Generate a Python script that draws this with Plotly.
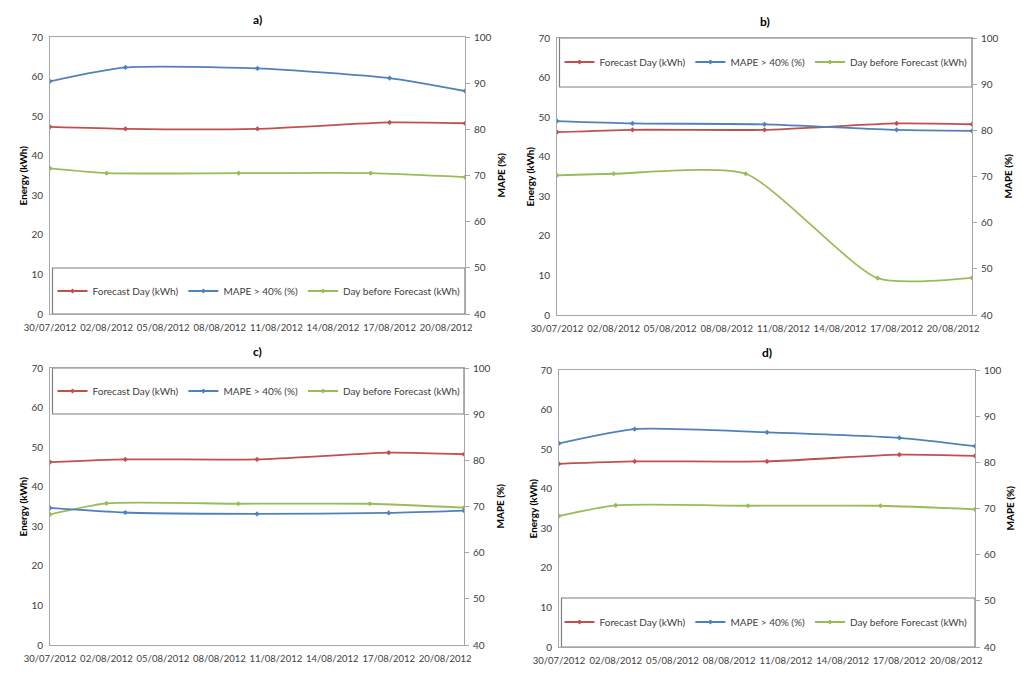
import plotly.graph_objects as go

# ---------------- data ----------------
dates_forecast = ["2012-07-30", "2012-08-03", "2012-08-10", "2012-08-17", "2012-08-21"]
dates_daybefore = ["2012-07-30", "2012-08-02", "2012-08-09", "2012-08-16", "2012-08-21"]

panel_labels = ["a)", "b)", "c)", "d)"]
series_names = ["Forecast Day (kWh)", "MAPE > 40% (%)", "Day before Forecast (kWh)"]

forecast_a = [47.3, 46.8, 46.8, 48.4, 48.2]
mape_a = [90.4, 93.4, 93.2, 91.1, 88.3]
daybefore_a = [36.8, 35.6, 35.6, 35.6, 34.6]

forecast_b = [46.2, 46.8, 46.8, 48.4, 48.2]
mape_b = [82.0, 81.5, 81.3, 80.1, 79.9]
daybefore_b = [35.3, 35.7, 35.7, 9.3, 9.4]

forecast_c = [46.2, 46.9, 46.9, 48.6, 48.2]
mape_c = [69.7, 68.7, 68.4, 68.6, 69.1]
daybefore_c = [33.0, 35.8, 35.7, 35.7, 34.7]

forecast_d = [46.3, 46.9, 46.9, 48.6, 48.3]
mape_d = [84.1, 87.2, 86.5, 85.3, 83.5]
daybefore_d = [33.1, 35.8, 35.7, 35.7, 34.8]

x_tick_values = ["2012-07-30", "2012-08-02", "2012-08-05", "2012-08-08",
                 "2012-08-11", "2012-08-14", "2012-08-17", "2012-08-20"]
x_tick_text = ["30/07/2012", "02/08/2012", "05/08/2012", "08/08/2012",
               "11/08/2012", "14/08/2012", "17/08/2012", "20/08/2012"]
x_range = ["2012-07-30", "2012-08-21"]
energy_ticks = [0, 10, 20, 30, 40, 50, 60, 70]
mape_ticks = [40, 50, 60, 70, 80, 90, 100]

panels = [
    (forecast_a, mape_a, daybefore_a),
    (forecast_b, mape_b, daybefore_b),
    (forecast_c, mape_c, daybefore_c),
    (forecast_d, mape_d, daybefore_d),
]

# ---------------- layout geometry (pixels) ----------------
W, H = 1024, 678
# left, right, top, bottom of each plot area
boxes = [(50, 465, 37, 314), (557, 972, 38, 315), (50, 464, 368, 645), (559, 975, 370, 647)]
legend_at_top = [False, True, True, False]
legend_box_px = [46, 49, 46, 49]
legend_centers = [(259, 291), (766, 62), (259, 391), (766, 622)]
left_title_x = [22, 529, 22, 532]
right_title_x = [500, 1007, 499, 1009]
title_y = [20, 21, 351, 352]

colors = ["#C0504D", "#4F81BD", "#9BBB59"]
FONT = "Lato, 'Open Sans', sans-serif"
TXT = "#404040"
AX = "#A6A6A6"

fig = go.Figure()
layout = dict(
    template="none",
    width=W, height=H, margin=dict(l=0, r=0, t=0, b=0, pad=0, autoexpand=False),
    paper_bgcolor="white", plot_bgcolor="white",
    font=dict(family=FONT, size=10, color=TXT),
    shapes=[], annotations=[],
)

for i, (fc, mp, db) in enumerate(panels):
    l, r, t, b = boxes[i]
    xa = f"x{i+1}" if i else "x"
    ya = f"y{2*i+1}" if i else "y"
    yb = f"y{2*i+2}"
    xname = f"xaxis{i+1}" if i else "xaxis"
    yname = f"yaxis{2*i+1}" if i else "yaxis"
    yname2 = f"yaxis{2*i+2}"
    leg = f"legend{i+1}" if i else "legend"

    series = [(dates_forecast, fc, ya), (dates_forecast, mp, yb), (dates_daybefore, db, ya)]
    for k, (xs, ys, yax) in enumerate(series):
        fig.add_trace(go.Scatter(
            x=xs, y=ys, name=series_names[k], mode="lines+markers",
            line=dict(color=colors[k], width=1.8, shape="spline", smoothing=0.6),
            marker=dict(color=colors[k], size=4, symbol="diamond"),
            xaxis=xa, yaxis=yax, legend=leg, cliponaxis=True,
        ))

    xd = [l / W, r / W]
    yd = [1 - b / H, 1 - t / H]
    layout[xname] = dict(
        domain=xd, anchor=ya, type="date", range=x_range, automargin=False,
        tickvals=x_tick_values, ticktext=x_tick_text, tickangle=0,
        showline=True, linecolor=AX, linewidth=1, mirror=True,
        ticks="", showgrid=False, zeroline=False, ticklabelstandoff=5,
        tickfont=dict(size=9.5, color=TXT),
    )
    layout[yname] = dict(
        domain=yd, anchor=xa, range=[0, 70], tickvals=energy_ticks, automargin=False,
        showline=True, linecolor=AX, linewidth=1, ticks="", ticklabelstandoff=4,
        showgrid=False, zeroline=False, tickfont=dict(size=10, color=TXT),
    )
    layout[yname2] = dict(
        domain=yd, anchor=xa, overlaying=ya, side="right", range=[40, 100],
        tickvals=mape_ticks, showline=True, linecolor=AX, linewidth=1, automargin=False,
        ticks="outside", ticklen=4, tickcolor=AX, ticklabelstandoff=2,
        showgrid=False, zeroline=False, tickfont=dict(size=10, color=TXT),
    )
    cx, cy = legend_centers[i]
    layout[leg] = dict(
        x=cx / W, y=1 - cy / H, xanchor="center", yanchor="middle",
        orientation="h", bgcolor="rgba(0,0,0,0)", borderwidth=0,
        font=dict(size=10, color=TXT), itemwidth=30, tracegroupgap=0,
    )
    hfrac = legend_box_px[i] / (b - t)
    y0, y1 = (1 - hfrac, 1) if legend_at_top[i] else (0, hfrac)
    layout["shapes"].append(dict(
        type="rect", xref=f"{xa} domain", yref=f"{ya} domain",
        x0=0.006, x1=1, y0=y0, y1=y1,
        line=dict(color="#7F7F7F", width=1.2), fillcolor="white", layer="below",
    ))
    layout["annotations"].append(dict(
        text=f"<b>{panel_labels[i]}</b>", xref="paper", yref="paper",
        x=(l + r) / 2 / W, y=1 - title_y[i] / H, showarrow=False,
        font=dict(size=12, color="#000000"), xanchor="center", yanchor="middle",
    ))
    ymid = 1 - (t + b) / 2 / H
    layout["annotations"].append(dict(
        text="<b>Energy (kWh)</b>", xref="paper", yref="paper",
        x=left_title_x[i] / W, y=ymid, textangle=-90, showarrow=False,
        font=dict(size=10, color="#000000"), xanchor="center", yanchor="middle",
    ))
    layout["annotations"].append(dict(
        text="<b>MAPE (%)</b>", xref="paper", yref="paper",
        x=right_title_x[i] / W, y=ymid, textangle=-90, showarrow=False,
        font=dict(size=10, color="#000000"), xanchor="center", yanchor="middle",
    ))

fig.update_layout(**layout)
fig.write_html(
    "out.html",
    config={"displayModeBar": False},
    post_script="document.body.style.margin='0';document.body.style.padding='0';"
                "document.body.style.overflow='hidden';",
)
